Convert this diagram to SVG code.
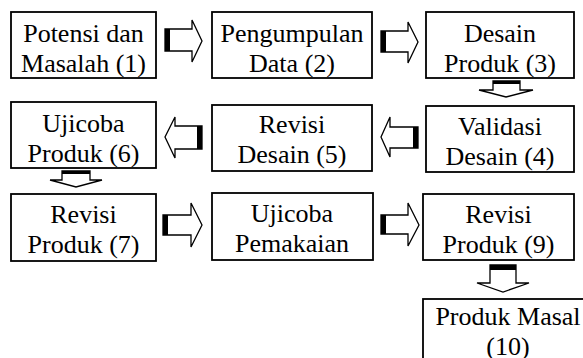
<svg xmlns="http://www.w3.org/2000/svg" width="583" height="358" viewBox="0 0 583 358">
<style>
.box{fill:#fff;stroke:#000;stroke-width:1.8}
text{font-size:26px;fill:#000;text-anchor:middle}
.ar{fill:#fff;stroke:#000;stroke-width:1.3;stroke-linejoin:miter}
.bar{fill:#000}
</style>
<rect width="583" height="358" fill="#fff"/>
<g id="connectors">
  <polygon class="ar" points="165,29 192,29 192,20 202,41 192,62 192,51 165,51"/>
  <rect class="bar" x="165" y="29" width="5" height="22"/>
  <polygon class="ar" points="381,31 408,31 408,22 418,42 408,63 408,52 381,52"/>
  <rect class="bar" x="381" y="31" width="5" height="21"/>
  <polygon class="ar" points="493,81 520,81 520,90 533,90 506,97 479,90 493,90"/>
  <rect class="bar" x="493" y="81" width="27" height="3"/>
  <polygon class="ar" points="418,127 390,127 390,117 381,137 390,157 390,148 418,148"/>
  <rect class="bar" x="413" y="127" width="5" height="21"/>
  <polygon class="ar" points="202,126 175,126 175,117 165,137 175,158 175,149 202,149"/>
  <rect class="bar" x="197" y="126" width="5" height="23"/>
  <polygon class="ar" points="62,171 90,171 90,180 102,180 76,187 50,180 62,180"/>
  <rect class="bar" x="62" y="171" width="28" height="3"/>
  <polygon class="ar" points="163,215 191,215 191,203 202,225 191,247 191,235 163,235"/>
  <rect class="bar" x="163" y="215" width="5" height="20"/>
  <polygon class="ar" points="381,215 408,215 408,203 419,225 408,246 408,234 381,234"/>
  <rect class="bar" x="381" y="215" width="5" height="19"/>
  <polygon class="ar" points="490,265 516,265 516,283 529,283 503,292 477,283 490,283"/>
  <rect class="bar" x="490" y="265" width="26" height="5"/>
</g>
<g id="n1" font-family="Liberation Serif, Tinos, Times New Roman, Times, Nimbus Roman, Noto Serif, DejaVu Serif, serif"><rect class="box" x="11" y="12" width="145" height="66"/><text x="83.5" y="42">Potensi dan</text><text x="83.5" y="72">Masalah (1)</text></g>
<g id="n2" font-family="Liberation Serif, Tinos, Times New Roman, Times, Nimbus Roman, Noto Serif, DejaVu Serif, serif"><rect class="box" x="212" y="12" width="160" height="66"/><text x="292" y="42">Pengumpulan</text><text x="292" y="72">Data (2)</text></g>
<g id="n3" font-family="Liberation Serif, Tinos, Times New Roman, Times, Nimbus Roman, Noto Serif, DejaVu Serif, serif"><rect class="box" x="426" y="12" width="148" height="66"/><text x="500" y="42">Desain</text><text x="500" y="72">Produk (3)</text></g>
<g id="n4" font-family="Liberation Serif, Tinos, Times New Roman, Times, Nimbus Roman, Noto Serif, DejaVu Serif, serif"><rect class="box" x="426" y="106" width="148" height="66"/><text x="500" y="135">Validasi</text><text x="500" y="165">Desain (4)</text></g>
<g id="n5" font-family="Liberation Serif, Tinos, Times New Roman, Times, Nimbus Roman, Noto Serif, DejaVu Serif, serif"><rect class="box" x="212" y="105" width="160" height="66"/><text x="292" y="133">Revisi</text><text x="292" y="163">Desain (5)</text></g>
<g id="n6" font-family="Liberation Serif, Tinos, Times New Roman, Times, Nimbus Roman, Noto Serif, DejaVu Serif, serif"><rect class="box" x="11" y="102" width="145" height="66"/><text x="83.5" y="132">Ujicoba</text><text x="83.5" y="162">Produk (6)</text></g>
<g id="n7" font-family="Liberation Serif, Tinos, Times New Roman, Times, Nimbus Roman, Noto Serif, DejaVu Serif, serif"><rect class="box" x="11" y="194" width="145" height="67"/><text x="83.5" y="223">Revisi</text><text x="83.5" y="253">Produk (7)</text></g>
<g id="n8" font-family="Liberation Serif, Tinos, Times New Roman, Times, Nimbus Roman, Noto Serif, DejaVu Serif, serif"><rect class="box" x="212" y="193" width="161" height="67"/><text x="292" y="222">Ujicoba</text><text x="292" y="252">Pemakaian</text></g>
<g id="n9" font-family="Liberation Serif, Tinos, Times New Roman, Times, Nimbus Roman, Noto Serif, DejaVu Serif, serif"><rect class="box" x="423" y="194" width="151" height="66"/><text x="498.5" y="223">Revisi</text><text x="498.5" y="253">Produk (9)</text></g>
<g id="n10" font-family="Liberation Serif, Tinos, Times New Roman, Times, Nimbus Roman, Noto Serif, DejaVu Serif, serif"><rect class="box" x="423" y="299" width="170" height="66"/><text x="508" y="325">Produk Masal</text><text x="508" y="355">(10)</text></g>
</svg>
